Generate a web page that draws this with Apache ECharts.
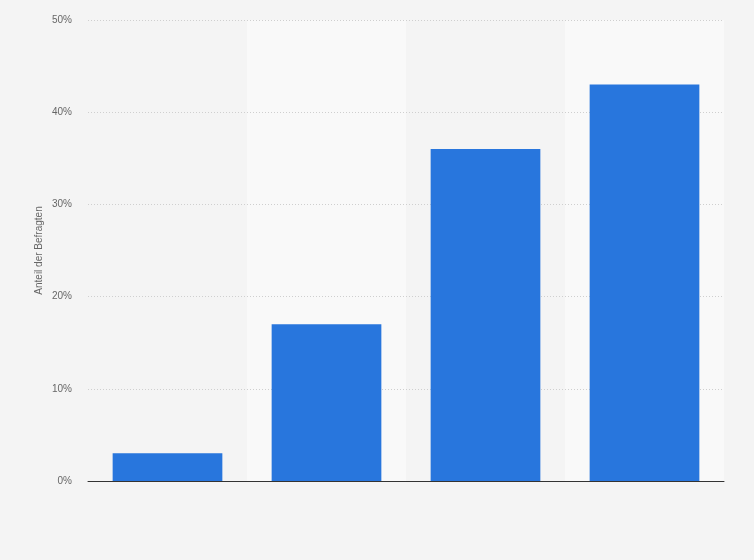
<!DOCTYPE html>
<html><head><meta charset="utf-8">
<script src="https://cdn.jsdelivr.net/npm/echarts@6/dist/echarts.min.js"></script>
<style>html,body{margin:0;padding:0;background:#f4f4f4}#c{width:754px;height:560px}</style>
</head><body><div id="c"></div>
<script>
const categories = ['A', 'B', 'C', 'D'];
const values = [3, 17, 36, 43];
const yTicks = [0, 10, 20, 30, 40, 50];

const chart = echarts.init(document.getElementById('c'), null, {renderer: 'canvas'});
chart.setOption({
  backgroundColor: '#f4f4f4',
  animation: false,
  grid: {left: 88, right: 30, top: 20, bottom: 79},
  xAxis: {
    type: 'category',
    data: categories,
    z: 0,
    axisLine: {show: true, lineStyle: {color: '#333', width: 1}},
    axisTick: {show: false},
    axisLabel: {show: false},
    splitArea: {show: true, areaStyle: {color: ['rgba(0,0,0,0)', '#f9f9f9']}}
  },
  yAxis: {
    type: 'value',
    z: 1,
    min: yTicks[0],
    max: yTicks[yTicks.length - 1],
    interval: 10,
    name: 'Anteil der Befragten',
    nameLocation: 'middle',
    nameGap: 44,
    nameMoveOverlap: false,
    nameTextStyle: {color: '#666', fontSize: 10, fontFamily: 'Liberation Sans'},
    axisLine: {show: false},
    axisTick: {show: false},
    axisLabel: {formatter: '{value}%', color: '#666', fontSize: 10, fontFamily: 'Liberation Sans', margin: 16, padding: [3, 0, 0, 0]},
    splitLine: {showMinLine: false, lineStyle: {color: '#cfcfcf', type: [1, 2], width: 1}}
  },
  series: [{
    type: 'bar',
    z: 3,
    data: values,
    barCategoryGap: '31%',
    itemStyle: {color: '#2876dd'}
  }]
});
</script></body></html>
